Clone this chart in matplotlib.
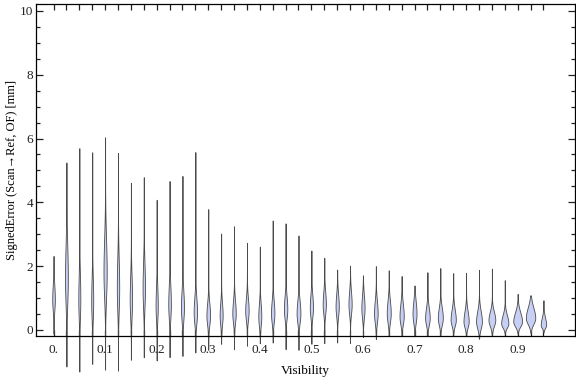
import matplotlib
matplotlib.use("Agg")
import matplotlib.pyplot as plt
import numpy as np

plt.rcParams['font.family'] = ['Liberation Serif', 'DejaVu Serif']

# violin centres (visibility bins)
visibility = [0.0, 0.025, 0.05, 0.075, 0.1, 0.125, 0.15, 0.175, 0.2, 0.225,
              0.25, 0.275, 0.3, 0.325, 0.35, 0.375, 0.4, 0.425, 0.45, 0.475,
              0.5, 0.525, 0.55, 0.575, 0.6, 0.625, 0.65, 0.675, 0.7, 0.725,
              0.75, 0.775, 0.8, 0.825, 0.85, 0.875, 0.9, 0.925, 0.95]

# max / min signed error per bin [mm]
err_max = [2.32, 5.25, 5.70, 5.57, 6.04, 5.55, 4.61, 4.79, 4.08, 4.67,
           4.83, 5.57, 3.78, 3.02, 3.25, 2.73, 2.61, 3.43, 3.34, 2.96,
           2.49, 2.26, 1.89, 2.01, 1.71, 2.00, 1.87, 1.69, 1.39, 1.81,
           1.94, 1.78, 1.79, 1.88, 1.92, 1.56, 1.13, 1.08, 0.93]
err_min = [-0.12, -1.15, -1.31, -1.07, -1.25, -1.28, -0.94, -0.86, -0.96, -0.86,
           -0.82, -0.71, -0.63, -0.44, -0.61, -0.50, -0.42, -0.40, -0.61, -0.63,
           -0.44, -0.42, -0.40, -0.42, -0.23, -0.29, -0.19, -0.19, -0.20, -0.18,
           -0.17, -0.15, -0.20, -0.28, -0.17, -0.12, -0.12, -0.10, -0.08]

# most likely value, spread and relative peak density of each bin
err_mode = [0.95, 1.6, 0.95, 0.9, 1.8, 1.3, 0.95, 1.3, 0.75, 0.8,
            0.7, 0.55, 0.45, 0.45, 0.52, 0.6, 0.42, 0.52, 0.65, 0.52,
            0.7, 0.8, 0.73, 0.8, 0.68, 0.52, 0.52, 0.42, 0.5, 0.37,
            0.37, 0.31, 0.26, 0.26, 0.31, 0.2, 0.26, 0.37, 0.15]
err_spread = [0.35, 0.8, 0.6, 0.55, 0.8, 0.7, 0.55, 0.6, 0.45, 0.45,
              0.4, 0.35, 0.3, 0.3, 0.3, 0.3, 0.3, 0.3, 0.3, 0.3,
              0.3, 0.3, 0.3, 0.3, 0.3, 0.3, 0.3, 0.3, 0.3, 0.25,
              0.25, 0.25, 0.25, 0.25, 0.2, 0.2, 0.22, 0.25, 0.18]
peak = [1.3, 1.4, 1.0, 1.0, 1.6, 1.2, 1.2, 1.2, 1.1, 1.3,
        1.5, 1.7, 1.8, 1.5, 1.7, 1.7, 1.5, 1.7, 1.7, 1.9,
        1.6, 1.6, 1.6, 1.6, 1.6, 1.8, 2.0, 2.1, 2.0, 2.3,
        2.5, 2.6, 2.6, 2.9, 3.4, 3.6, 4.4, 4.7, 2.7]

x_labels = ["0.", "0.1", "0.2", "0.3", "0.4", "0.5", "0.6", "0.7", "0.8", "0.9"]

fig = plt.figure(figsize=(5.76, 3.77), dpi=100)
ax = fig.add_axes([0.0625, 0.109, 0.9365, 0.8806])

width_scale = 0.00194  # one pixel in x data units

for x0, hi, lo, m, s, p in zip(visibility, err_max, err_min, err_mode, err_spread, peak):
    y = np.linspace(lo, hi, 400)
    s_lo = min(s, (m - lo) / 2.5)
    s_hi = s * 1.3
    sig = np.where(y < m, s_lo, s_hi)
    w = p * width_scale * np.exp(-0.5 * ((y - m) / sig) ** 2)
    ax.fill_betweenx(y, x0 - w, x0 + w, facecolor='#c8cff4',
                     edgecolor='#4a4a4a', linewidth=0.6, clip_on=False, zorder=2)

ax.set_xlim(-0.034, 1.012)
ax.set_ylim(-0.19, 10.22)

ax.set_xticks(visibility)
ax.set_xticklabels([x_labels[i // 4] if i % 4 == 0 else "" for i in range(len(visibility))])
ax.set_yticks([0, 2, 4, 6, 8, 10])
ax.set_yticks(np.arange(0, 10.5, 0.5), minor=True)

ax.tick_params(axis='both', which='both', direction='in', top=True, right=True,
               labelsize=9.5, colors='#222222', width=0.9)
ax.tick_params(axis='x', which='major', length=4, pad=6)
ax.tick_params(axis='y', which='major', length=5, pad=2)
ax.tick_params(axis='y', which='minor', length=3)
for sp in ax.spines.values():
    sp.set_linewidth(0.9)

ax.set_xlabel("Visibility", fontsize=9.5, labelpad=6)
ax.set_ylabel("SignedError (Scan\u2192Ref, OF) [mm]", fontsize=9, labelpad=1)

fig.savefig("out.png", dpi=100)
